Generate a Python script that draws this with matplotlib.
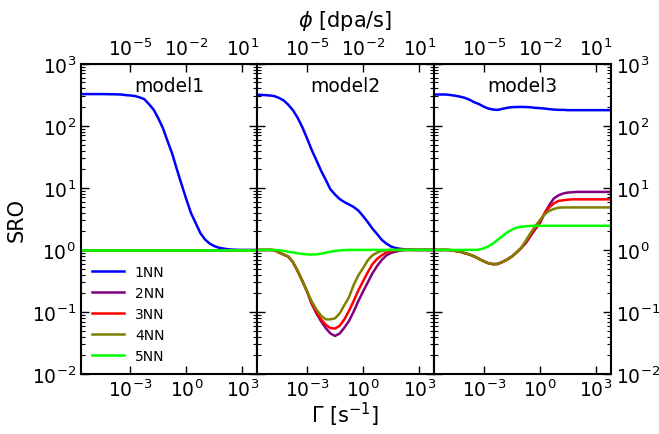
import numpy as np
import matplotlib
matplotlib.use("Agg")
import matplotlib.pyplot as plt
from matplotlib.ticker import LogLocator, NullLocator, NullFormatter

# Γ grid (s^-1), quarter-decade steps from 10^-5.75 to 10^3.75
gamma = 10.0 ** np.linspace(-5.75, 3.75, 39)

labels = ["1NN", "2NN", "3NN", "4NN", "5NN"]
colors = ["#0000ff", "#800080", "#ff0000", "#808000", "#00ff00"]
models = ["model1", "model2", "model3"]

# model1
m1_1nn = [325, 325, 325, 325, 325, 325, 324, 323, 322, 320,
          313, 309, 302, 288, 269, 224, 182, 132, 91, 56, 35, 19.5, 11.2, 6.5,
          3.9, 2.7, 1.86, 1.47, 1.26, 1.15, 1.08, 1.05, 1.02, 1.01,
          1.0, 1.0, 1.0, 1.0, 1.0]
m1_2nn = [1.0] * 39
m1_3nn = [1.0] * 39
m1_4nn = [1.0] * 39
m1_5nn = [1.0] * 39

# model2
m2_1nn = [316, 316, 313, 309, 302, 282, 257, 219, 178, 135,
          95, 63, 41, 28, 19, 13.5, 9.5, 7.8, 6.6, 5.9, 5.4, 4.9, 4.3, 3.5,
          2.8, 2.2, 1.8, 1.45, 1.26, 1.13, 1.07, 1.04, 1.02, 1.01,
          1.0, 1.0, 1.0, 1.0, 1.0]
m2_2nn = [1.0, 1.0, 1.0, 1.0, 0.99, 0.91, 0.84, 0.78, 0.63, 0.457, 0.316, 0.214,
          0.135, 0.095, 0.071, 0.055, 0.045, 0.041, 0.045, 0.056, 0.072, 0.102,
          0.151, 0.214, 0.30, 0.42, 0.55, 0.69, 0.82, 0.895, 0.94, 0.977,
          1.0, 1.0, 1.0, 1.0, 1.0, 1.0, 1.0]
m2_3nn = [1.0, 1.0, 1.0, 1.0, 0.99, 0.91, 0.84, 0.78, 0.63, 0.457, 0.316, 0.214,
          0.138, 0.10, 0.076, 0.062, 0.055, 0.054, 0.06, 0.076, 0.105, 0.151,
          0.224, 0.313, 0.437, 0.589, 0.716, 0.82, 0.916, 0.964, 0.99,
          1.0, 1.0, 1.0, 1.0, 1.0, 1.0, 1.0, 1.0]
m2_4nn = [1.0, 1.0, 1.0, 1.0, 0.99, 0.91, 0.84, 0.78, 0.63, 0.457, 0.316, 0.214,
          0.148, 0.11, 0.087, 0.076, 0.076, 0.079, 0.095, 0.129, 0.174, 0.275,
          0.39, 0.51, 0.68, 0.82, 0.906, 0.964, 0.99,
          1.0, 1.0, 1.0, 1.0, 1.0, 1.0, 1.0, 1.0, 1.0, 1.0]
m2_5nn = [1.0, 1.0, 1.0, 1.0, 1.0, 0.99, 0.966, 0.933, 0.912, 0.881,
          0.861, 0.847, 0.841, 0.847, 0.871, 0.902, 0.933, 0.959, 0.982, 0.993,
          1.0, 1.0, 1.0, 1.0, 1.0, 1.0, 1.0, 1.0, 1.0, 1.0,
          1.0, 1.0, 1.0, 1.0, 1.0, 1.0, 1.0, 1.0, 1.0]

# model3
m3_1nn = [320, 320, 320, 320, 313, 305, 295, 282, 263, 240,
          224, 204, 190, 183, 181, 188, 195, 200, 201, 202,
          201, 199, 195, 193, 190, 186, 183, 181, 181,
          179, 179, 179, 179, 179, 179, 179, 179, 179, 179]
m3_2nn = [1.0, 1.0, 1.0, 1.0, 0.99, 0.96, 0.933, 0.883, 0.841, 0.782,
          0.716, 0.656, 0.61, 0.589, 0.594, 0.64, 0.698, 0.782, 0.906, 1.07,
          1.29, 1.66, 2.14, 2.69, 3.87, 5.25, 6.76, 7.59, 8.13, 8.41, 8.51,
          8.61, 8.61, 8.61, 8.61, 8.61, 8.61, 8.61, 8.61]
m3_3nn = [1.0, 1.0, 1.0, 1.0, 0.99, 0.96, 0.933, 0.883, 0.841, 0.782,
          0.716, 0.656, 0.61, 0.589, 0.594, 0.64, 0.698, 0.782, 0.906, 1.07,
          1.35, 1.74, 2.24, 2.82, 3.87, 4.84, 5.62, 6.17, 6.31, 6.46,
          6.53, 6.53, 6.53, 6.53, 6.53, 6.53, 6.53, 6.53, 6.53]
m3_4nn = [1.0, 1.0, 1.0, 1.0, 0.99, 0.96, 0.933, 0.883, 0.841, 0.782,
          0.716, 0.656, 0.61, 0.589, 0.594, 0.64, 0.698, 0.782, 0.906, 1.07,
          1.41, 1.86, 2.4, 3.02, 3.72, 4.27, 4.57, 4.79,
          4.84, 4.84, 4.84, 4.84, 4.84, 4.84, 4.84, 4.84, 4.84, 4.84, 4.84]
m3_5nn = [1.0, 1.0, 1.0, 1.0, 1.0, 1.0, 1.0, 1.0, 1.0, 1.0,
          1.01, 1.06, 1.14, 1.27, 1.46, 1.67, 1.91, 2.11, 2.28, 2.36, 2.40, 2.44,
          2.45, 2.45, 2.45, 2.45, 2.45, 2.45, 2.45, 2.45, 2.45, 2.45,
          2.45, 2.45, 2.45, 2.45, 2.45, 2.45, 2.45]

data = [
    [m1_1nn, m1_2nn, m1_3nn, m1_4nn, m1_5nn],
    [m2_1nn, m2_2nn, m2_3nn, m2_4nn, m2_5nn],
    [m3_1nn, m3_2nn, m3_3nn, m3_4nn, m3_5nn],
]

fig, axes = plt.subplots(1, 3, figsize=(6.59, 4.35), dpi=100, sharey=True)
fig.subplots_adjust(left=0.1225, right=0.927, bottom=0.138, top=0.851, wspace=0)

for i, ax in enumerate(axes):
    for series, lab, col in zip(data[i], labels, colors):
        ax.plot(gamma, series, color=col, lw=1.8, label=lab)
    ax.set_xscale("log")
    ax.set_yscale("log")
    ax.set_xlim(10 ** -5.65, 10 ** 3.8)
    ax.set_ylim(1e-2, 1e3)
    ax.set_xticks([1e-3, 1e0, 1e3])
    ax.xaxis.set_minor_locator(NullLocator())
    ax.yaxis.set_major_locator(LogLocator(base=10, numticks=10))
    ax.yaxis.set_minor_locator(LogLocator(base=10, subs=np.arange(2, 10), numticks=20))
    ax.yaxis.set_minor_formatter(NullFormatter())
    ax.tick_params(axis="both", which="both", direction="in", labelsize=13.5)
    ax.tick_params(axis="y", which="both", left=True, right=True)
    ax.tick_params(which="major", length=6, width=1)
    ax.tick_params(which="minor", length=3, width=0.8)
    for sp in ax.spines.values():
        sp.set_linewidth(1.5)
    ax.text(0.5, 0.93, models[i], transform=ax.transAxes, ha="center", va="center", fontsize=13.5)

    top = ax.secondary_xaxis("top", functions=(lambda x: x * 1e-2, lambda x: x * 1e2))
    top.set_xticks([1e-5, 1e-2, 1e1])
    top.xaxis.set_minor_locator(NullLocator())
    top.tick_params(axis="x", which="both", direction="in", labelsize=13.5, length=6, width=1)

axes[2].tick_params(axis="y", labelleft=False, labelright=True)
axes[0].set_ylabel("SRO", fontsize=15)

axes[0].legend(loc="lower left", frameon=False, fontsize=10, handlelength=2.3,
               borderaxespad=0.4, labelspacing=0.5)

fig.text(0.523, 0.047, r"$\Gamma$ [s$^{-1}$]", ha="center", va="center", fontsize=15)
fig.text(0.523, 0.952, r"$\phi$ [dpa/s]", ha="center", va="center", fontsize=15)

fig.savefig("out.png", dpi=100)
